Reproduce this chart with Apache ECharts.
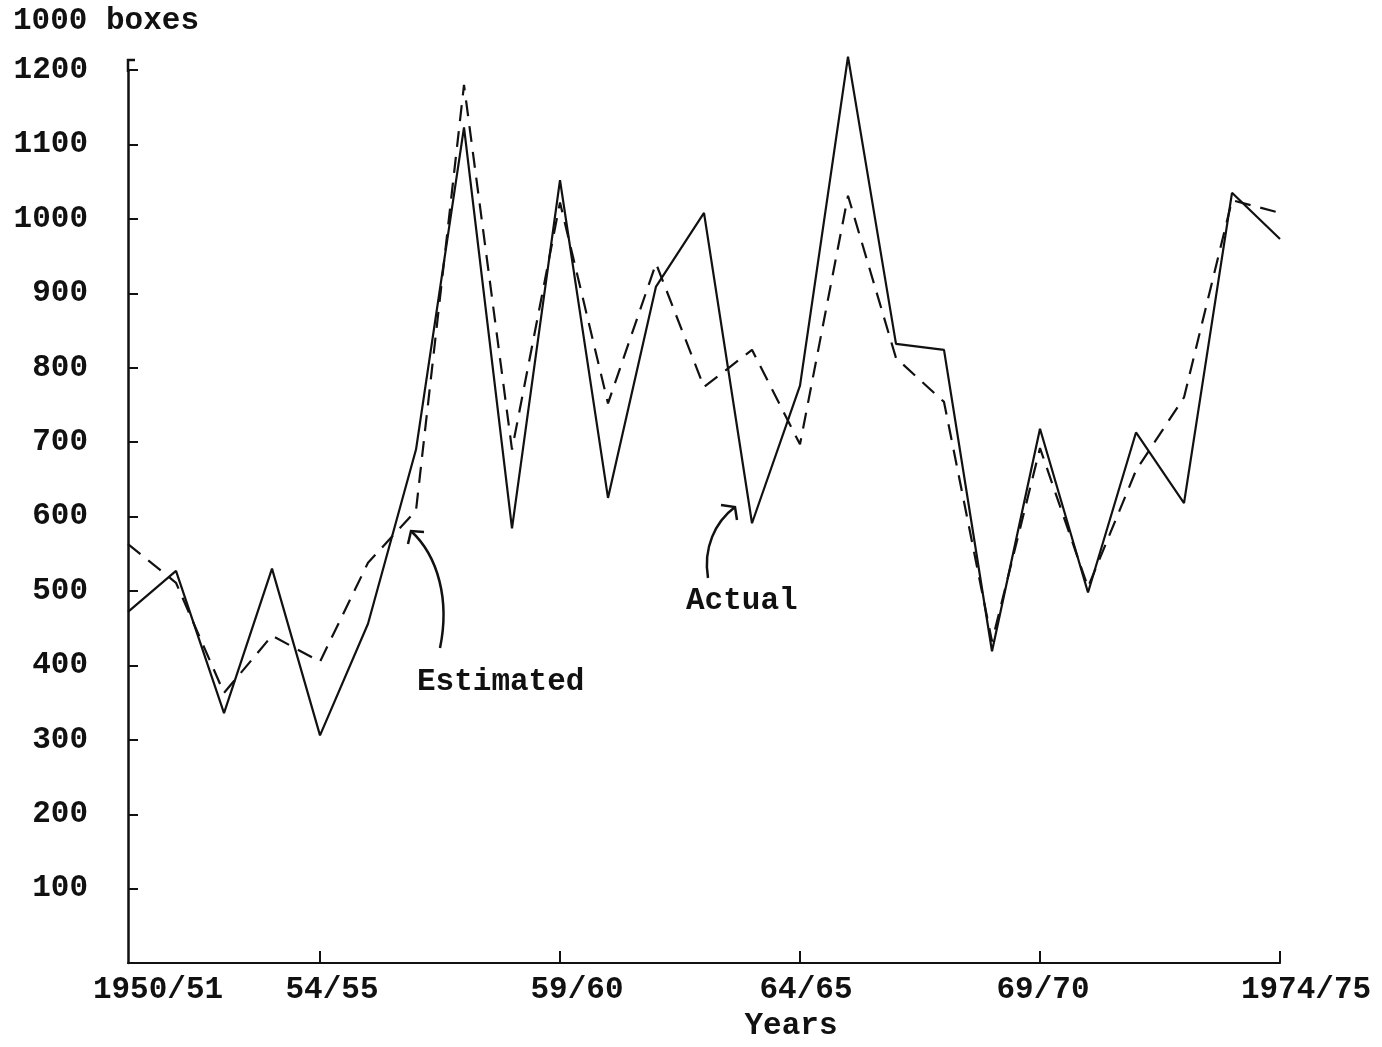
<!DOCTYPE html>
<html><head><meta charset="utf-8">
<script src="https://cdn.jsdelivr.net/npm/echarts@6/dist/echarts.min.js"></script>
<style>html,body{margin:0;padding:0;background:#fff;overflow:hidden;width:1382px;height:1047px}#c{width:1382px;height:1047px;overflow:hidden}</style>
</head><body><div id="c"></div>
<script>
const categories = ['1950/51','1951/52','1952/53','1953/54','1954/55','1955/56','1956/57','1957/58','1958/59','1959/60',
  '1960/61','1961/62','1962/63','1963/64','1964/65','1965/66','1966/67','1967/68','1968/69','1969/70',
  '1970/71','1971/72','1972/73','1973/74','1974/75'];
const actual = [472, 527, 336, 530, 306, 456, 690, 1123, 584, 1052,
  625, 909, 1008, 591, 776, 1218, 832, 824, 419, 718,
  498, 713, 618, 1035, 973];
const estimated = [563, 511, 363, 440, 405, 538, 608, 1180, 690, 1022,
  752, 940, 774, 824, 697, 1031, 813, 754, 432, 692,
  505, 662, 760, 1025, 1008];
const xTickIndex = [0, 4, 9, 14, 19, 24];
const xTickText = ['1950/51', '54/55', '59/60', '64/65', '69/70', '1974/75'];
const yMin = 0, yMax = 1200, yStep = 100;

const FONT = 'Liberation Mono';
const W = 'bold';
const shifts = [30, 12, 17, 6, 3, 26];
const rich = {};
shifts.forEach((s, k) => { rich['s' + k] = { padding: [0, 0, 0, 2 * s], fontSize: 31, fontFamily: FONT, fontWeight: W, color: '#111' }; });

const chart = echarts.init(document.getElementById('c'), null, { renderer: 'canvas', width: 1382, height: 1047 });
chart.setOption({
  animation: false,
  backgroundColor: '#fff',
  grid: { left: 128, right: 102, top: 70, bottom: 71, containLabel: false },
  xAxis: {
    type: 'category', data: categories, boundaryGap: false,
    axisLine: { lineStyle: { color: '#111', width: 2.2 } },
    axisTick: { show: true, inside: true, length: 12, lineStyle: { color: '#111', width: 2 },
      interval: (i) => xTickIndex.indexOf(i) > 0 },
    axisLabel: { interval: 0, margin: 12, hideOverlap: false,
      formatter: (v, i) => { const k = xTickIndex.indexOf(i); return k < 0 ? '' : '{s' + k + '|' + xTickText[k] + '}'; },
      rich: rich },
    name: 'Years', nameLocation: 'middle', nameGap: 42,
    nameTextStyle: { fontSize: 31, fontFamily: FONT, fontWeight: W, color: '#111', padding: [0, 0, 0, 174] },
    splitLine: { show: false }
  },
  yAxis: {
    type: 'value', min: yMin, max: yMax, interval: yStep,
    axisLine: { show: true, lineStyle: { color: '#111', width: 2.5 } },
    axisTick: { show: true, inside: true, length: 10, lineStyle: { color: '#111', width: 2 } },
    axisLabel: { margin: 40, fontSize: 31, fontFamily: FONT, fontWeight: W, color: '#111',
      formatter: (v) => v === 0 ? '' : String(v) },
    splitLine: { show: false }
  },
  series: [
    { name: 'Actual', type: 'line', data: actual, symbol: 'none', clip: false,
      lineStyle: { color: '#111', width: 2.2 } },
    { name: 'Estimated', type: 'line', data: estimated, symbol: 'none', clip: false,
      lineStyle: { color: '#111', width: 2.2, type: [16, 10] } }
  ],
  graphic: [
    { type: 'text', left: 13, top: 6, style: { text: '1000 boxes', font: 'bold 31px "Liberation Mono"', fill: '#111' } },
    { type: 'text', left: 417, top: 667, style: { text: 'Estimated', font: 'bold 31px "Liberation Mono"', fill: '#111' } },
    { type: 'text', left: 686, top: 586, style: { text: 'Actual', font: 'bold 31px "Liberation Mono"', fill: '#111' } },
    { type: 'polyline', shape: { points: [[128, 72], [128, 60], [135, 60]] }, style: { stroke: '#111', lineWidth: 2.5, fill: null } },
    { type: 'bezierCurve', shape: { x1: 440, y1: 648, cpx1: 450, cpy1: 600, cpx2: 438, cpy2: 556, x2: 411, y2: 531 },
      style: { stroke: '#111', lineWidth: 2.5, fill: null } },
    { type: 'polyline', shape: { points: [[408, 544], [411, 531], [424, 532]] }, style: { stroke: '#111', lineWidth: 2.5, fill: null } },
    { type: 'bezierCurve', shape: { x1: 708, y1: 578, cpx1: 703, cpy1: 548, cpx2: 715, cpy2: 522, x2: 735, y2: 507 },
      style: { stroke: '#111', lineWidth: 2.5, fill: null } },
    { type: 'polyline', shape: { points: [[721, 505], [735, 507], [737, 520]] }, style: { stroke: '#111', lineWidth: 2.5, fill: null } }
  ]
});
</script></body></html>
